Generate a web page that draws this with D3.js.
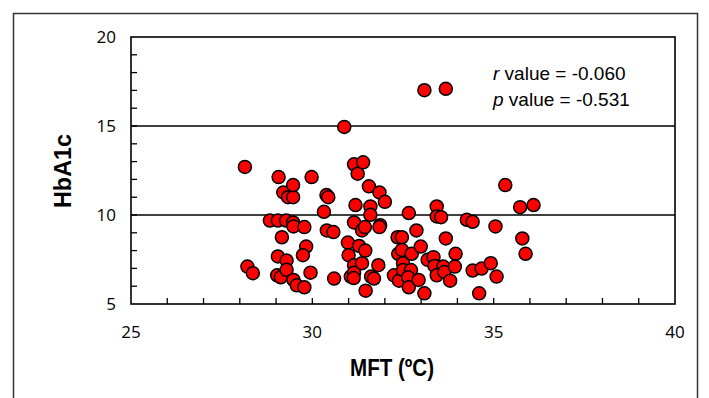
<!DOCTYPE html>
<html>
<head>
<meta charset="utf-8">
<script src="https://cdn.jsdelivr.net/npm/d3@7"></script>
<style>
  body { margin: 0; background: #fff; }
</style>
</head>
<body>
<div id="chart"></div>
<script>
// MFT (ºC) values
const mft = [
  28.14, 28.21, 28.36, 28.83, 29.05, 29.07, 29.05, 29.03, 29.13, 29.16,
  29.20, 29.33, 29.47, 29.47, 29.28, 29.47, 29.48, 29.29, 29.29, 29.48,
  29.57, 29.78, 29.78, 29.83, 29.74, 29.98, 29.95, 30.32, 30.39, 30.44,
  30.40, 30.58, 30.60, 30.88, 30.98, 31.00, 31.06, 31.15, 31.19, 31.15,
  31.25, 31.40, 31.15, 31.15, 31.14, 31.29, 31.37, 31.46, 31.37, 31.45,
  31.47, 31.56, 31.60, 31.60, 31.62, 31.70, 31.82, 31.85, 31.87, 32.00,
  31.85, 32.25, 32.35, 32.47, 32.37, 32.47, 32.50, 32.39, 32.50, 32.66,
  32.74, 32.72, 32.64, 32.66, 32.87, 32.93, 32.99, 33.09, 33.09, 33.18,
  33.34, 33.37, 33.43, 33.43, 33.43, 33.55, 33.68, 33.68, 33.61, 33.64,
  33.80, 33.95, 33.93, 34.26, 34.42, 34.42, 34.67, 34.60, 34.92, 35.05,
  35.08, 35.32, 35.73, 36.10, 35.79, 35.88
];
// HbA1c values
const hba1c = [
  12.70, 7.10, 6.73, 9.69, 9.69, 12.13, 7.67, 6.61, 6.50, 8.75,
  11.27, 11.00, 11.00, 11.68, 9.69, 9.58, 9.36, 7.44, 6.92, 6.35,
  6.05, 5.94, 9.32, 8.23, 7.74, 12.13, 6.76, 10.18, 11.12, 11.00,
  9.13, 9.04, 6.43, 14.95, 8.45, 7.74, 6.54, 9.58, 10.56, 12.85,
  12.32, 12.96, 7.18, 6.76, 6.46, 8.26, 7.29, 8.00, 9.13, 9.32,
  5.75, 11.61, 10.48, 10.01, 6.54, 6.43, 7.18, 11.27, 9.43, 10.74,
  9.32, 6.61, 8.75, 8.75, 7.82, 8.04, 7.29, 6.31, 6.91, 10.11,
  7.82, 6.91, 6.50, 5.94, 9.13, 6.35, 8.23, 17.01, 5.60, 7.48,
  7.63, 7.14, 6.61, 10.48, 9.92, 9.88, 17.09, 8.68, 7.10, 6.80,
  6.31, 7.82, 7.10, 9.73, 9.62, 6.88, 6.99, 5.60, 7.29, 9.36,
  6.54, 11.68, 10.44, 10.56, 8.68, 7.82
];
const xTickLabels = [25, 30, 35, 40];
const yTickLabels = [5, 10, 15, 20];
const gridValues = [10, 15];
const statsLines = [
  { sym: 'r', text: ' value = -0.060' },
  { sym: 'p', text: ' value = -0.531' }
];

const w = 709;
const h = 398;
// plot box edges
const pLeft = 131, pRight = 675, pTop = 37, pBottom = 304;

const svg = d3.select('#chart')
  .append('svg')
  .attr('width', w)
  .attr('height', h)
  .style('display', 'block');

// outer frame
svg.append('rect')
  .attr('x', 13.5).attr('y', 13.5)
  .attr('width', 684).attr('height', 400)
  .attr('fill', 'none')
  .attr('stroke', '#333')
  .attr('stroke-width', 1.5);

const x = d3.scaleLinear().domain([25, 40]).range([pLeft, pRight]);
const y = d3.scaleLinear().domain([5, 20]).range([pBottom, pTop]);

// minor ticks (inside)
const g = svg.append('g');
g.selectAll('.xt')
  .data(d3.range(26, 40))
  .enter()
  .append('line')
  .attr('x1', d => x(d)).attr('x2', d => x(d))
  .attr('y1', pBottom).attr('y2', pBottom - 6)
  .attr('stroke', '#000').attr('stroke-width', 1.3);
g.selectAll('.yt')
  .data(d3.range(6, 20))
  .enter()
  .append('line')
  .attr('y1', d => y(d)).attr('y2', d => y(d))
  .attr('x1', pLeft).attr('x2', pLeft + 6)
  .attr('stroke', '#000').attr('stroke-width', 1.3);

// grid lines
g.selectAll('.grid')
  .data(gridValues)
  .enter()
  .append('line')
  .attr('x1', pLeft).attr('x2', pRight)
  .attr('y1', d => y(d)).attr('y2', d => y(d))
  .attr('stroke', '#000').attr('stroke-width', 1.6);

// plot box
svg.append('rect')
  .attr('x', pLeft).attr('y', pTop)
  .attr('width', pRight - pLeft).attr('height', pBottom - pTop)
  .attr('fill', 'none')
  .attr('stroke', '#000')
  .attr('stroke-width', 1.6);

// tick labels
svg.selectAll('.xl')
  .data(xTickLabels)
  .enter()
  .append('text')
  .attr('x', d => x(d))
  .attr('y', 338)
  .attr('text-anchor', 'middle')
  .style('font-family', 'Open Sans, sans-serif')
  .style('font-size', '17px')
  .text(d => d);

svg.selectAll('.yl')
  .data(yTickLabels)
  .enter()
  .append('text')
  .attr('x', 116)
  .attr('y', d => y(d))
  .attr('dy', '0.35em')
  .attr('text-anchor', 'end')
  .style('font-family', 'Open Sans, sans-serif')
  .style('font-size', '17px')
  .text(d => d);

// axis titles (narrow bold look)
svg.append('text')
  .attr('x', 392).attr('y', 376)
  .attr('text-anchor', 'middle')
  .attr('textLength', 84)
  .attr('lengthAdjust', 'spacingAndGlyphs')
  .style('font-family', 'Liberation Sans, Arial, sans-serif')
  .style('font-weight', 'bold')
  .style('font-size', '24px')
  .text('MFT (ºC)');

svg.append('text')
  .attr('transform', 'translate(71,171) rotate(-90)')
  .attr('text-anchor', 'middle')
  .attr('textLength', 74)
  .attr('lengthAdjust', 'spacingAndGlyphs')
  .style('font-family', 'Liberation Sans, Arial, sans-serif')
  .style('font-weight', 'bold')
  .style('font-size', '24px')
  .text('HbA1c');

// points
const dataset = mft.map((v, i) => ({ x: v, y: hba1c[i] }));
svg.append('g')
  .selectAll('circle')
  .data(dataset)
  .enter()
  .append('circle')
  .attr('cx', d => x(d.x))
  .attr('cy', d => y(d.y))
  .attr('r', 6.5)
  .attr('fill', '#ff0000')
  .attr('stroke', '#000')
  .attr('stroke-width', 1.5);

// stats text
const st = svg.selectAll('.stat')
  .data(statsLines)
  .enter()
  .append('text')
  .attr('x', 493)
  .attr('y', (d, i) => 80 + i * 26)
  .style('font-family', 'Liberation Sans, Arial, sans-serif')
  .style('font-size', '19px');
st.append('tspan').style('font-style', 'italic').text(d => d.sym);
st.append('tspan').text(d => d.text);
</script>
</body>
</html>
